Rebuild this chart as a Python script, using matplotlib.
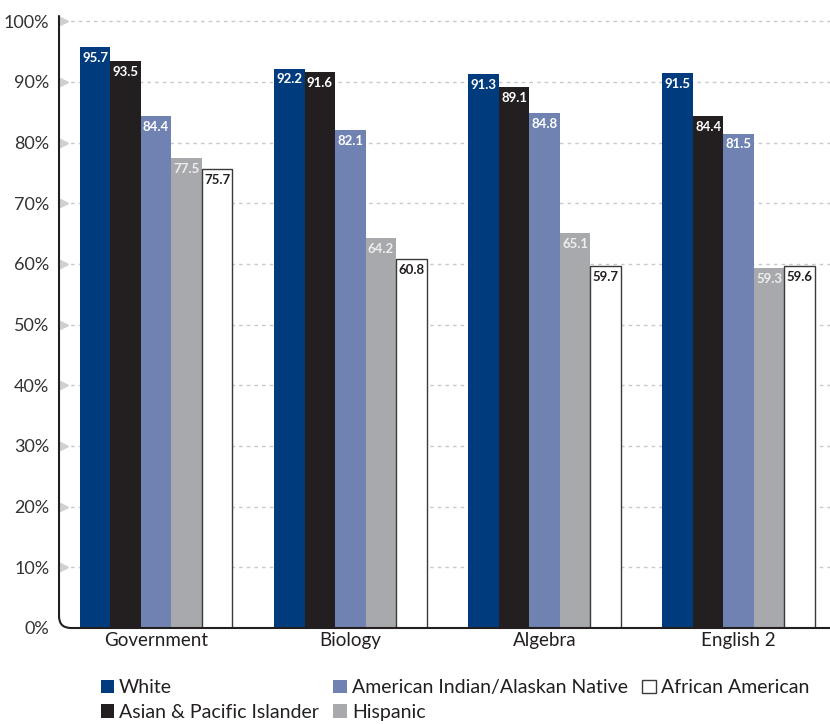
import matplotlib
matplotlib.use("Agg")
import matplotlib.pyplot as plt
import numpy as np
from matplotlib.path import Path
from matplotlib.patches import PathPatch
import matplotlib.transforms as mtransforms

plt.rcParams['font.family'] = ['Lato', 'DejaVu Sans']

categories = ["Government", "Biology", "Algebra", "English 2"]
series_names = ["White", "Asian & Pacific Islander", "American Indian/Alaskan Native",
                "Hispanic", "African American"]
white = [95.7, 92.2, 91.3, 91.5]
asian = [93.5, 91.6, 89.1, 84.4]
amind = [84.4, 82.1, 84.8, 81.5]
hispanic = [77.5, 64.2, 65.1, 59.3]
african = [75.7, 60.8, 59.7, 59.6]
yticks = [0, 10, 20, 30, 40, 50, 60, 70, 80, 90, 100]

series = [white, asian, amind, hispanic, african]
face = ["#003C7D", "#231F20", "#6F82B2", "#A7A9AC", "#FFFFFF"]
edge = ["#003C7D", "#231F20", "#6F82B2", "#A7A9AC", "#3a3a3a"]
txtc = ["#FFFFFF", "#FFFFFF", "#FFFFFF", "#EEEEEE", "#231F20"]

fig = plt.figure(figsize=(8.3, 7.24), dpi=100)
ax = fig.add_axes([0.0711, 0.1326, 0.9289, 0.8464])

x = np.arange(len(categories))
w = 0.157
for i, (vals, fc, ec, tc) in enumerate(zip(series, face, edge, txtc)):
    pos = x + (i - 2) * w
    ax.bar(pos, vals, width=w, color=fc, edgecolor=ec,
           linewidth=1.0 if i == 4 else 0, label=series_names[i], zorder=3)
    for p, v in zip(pos, vals):
        ax.annotate(f"{v:.1f}", (p, v), xytext=(0, -3.5), textcoords="offset points",
                    ha="center", va="top", color=tc, fontsize=9.5,
                    fontweight="bold", zorder=4)

ax.set_xlim(-0.5, 3.47)
ax.set_ylim(0, 101)
ax.set_yticks(yticks)
ax.set_yticklabels([f"{t}%" for t in yticks], fontsize=13, color="#333333")
ax.set_xticks(x)
ax.set_xticklabels(categories, fontsize=13.5, color="#231F20")
ax.tick_params(axis="y", length=0, pad=7)
ax.tick_params(axis="x", length=0, pad=3)

trans = mtransforms.blended_transform_factory(ax.transAxes, ax.transData)
for t in yticks[1:]:
    ax.plot([0.005, 1.0], [t, t], color="#C8C8C8", linestyle=(0, (2.5, 3)),
            linewidth=1.0, zorder=1, transform=trans)
ax.plot([0.006] * (len(yticks) - 1), yticks[1:], marker=">", linestyle="none",
        color="#D0D0D0", markersize=5.5, transform=trans, clip_on=False, zorder=2)

for s in ax.spines.values():
    s.set_visible(False)

# rounded corner axis
rx = 12 / (0.9289 * 830)
ry = 12 / (0.8464 * 724)
verts = [(0, 1.0), (0, ry), (0, 0), (rx, 0), (1, 0)]
codes = [Path.MOVETO, Path.LINETO, Path.CURVE3, Path.CURVE3, Path.LINETO]
ax.add_patch(PathPatch(Path(verts, codes), transform=ax.transAxes, fill=False,
                       edgecolor="#231F20", linewidth=1.5, clip_on=False, zorder=5))

handles, labels = ax.get_legend_handles_labels()
leg = fig.legend(handles, labels, loc="lower left", bbox_to_anchor=(0.1, -0.02),
                 ncol=3, frameon=False, fontsize=14, handlelength=0.7,
                 handleheight=0.7, handletextpad=0.25, columnspacing=0.75,
                 labelspacing=0.4)
for t in leg.get_texts():
    t.set_color("#231F20")

fig.savefig("out.png", dpi=100)
